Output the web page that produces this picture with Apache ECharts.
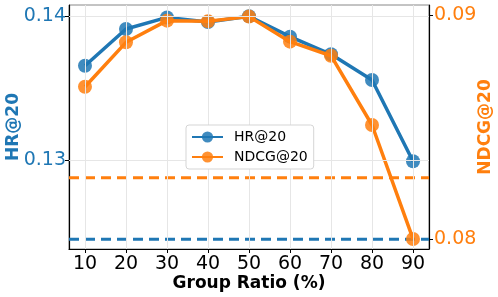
<!DOCTYPE html>
<html><head><meta charset="utf-8">
<script src="https://cdn.jsdelivr.net/npm/echarts@6/dist/echarts.min.js"></script>
<style>html,body{margin:0;padding:0;background:#fff}#c{width:498px;height:297px}</style>
</head><body><div id="c"></div>
<script>
const groupRatios = [10, 20, 30, 40, 50, 60, 70, 80, 90];
const hr20 = [0.13656, 0.1391, 0.1399, 0.13958, 0.13998, 0.13857, 0.13735, 0.13557, 0.12995];
const ndcg20 = [0.08681, 0.0888, 0.08977, 0.08974, 0.08995, 0.08883, 0.0882, 0.0851, 0.0800];
const hrBaseline = 0.12455;
const ndcgBaseline = 0.08274;
const hrTicks = [0.13, 0.14];
const ndcgTicks = [0.08, 0.09];
const xRange = [6.1, 93.9];

const blue = '#1f77b4', orange = '#ff7f0e';
const font = 'DejaVu Sans';
const chart = echarts.init(document.getElementById('c'), null, {renderer: 'canvas'});

const gridLineStyle = {color: '#e6e6e6', width: 1, type: 'solid'};
const vGrid = groupRatios.map(v => ({xAxis: v}));
const hGrid = hrTicks.map(v => ({yAxis: v}));

chart.setOption({
  animation: false,
  textStyle: {fontFamily: font},
  grid: {left: 69, right: 69, top: 5, bottom: 48, outerBoundsMode: 'none', containLabel: false,
    show: true, borderColor: '#888', borderWidth: 1},
  legend: {
    left: 186, top: 125, orient: 'vertical', zlevel: 2, z: 20,
    itemWidth: 31, itemHeight: 14, itemGap: 6,
    padding: [5, 6, 5, 5],
    borderColor: '#d5d5d5', borderWidth: 1, borderRadius: 3,
    backgroundColor: '#fff',
    textStyle: {fontFamily: font, fontSize: 14, color: '#000', padding: [0, 0, 0, 6]},
    data: ['HR@20', 'NDCG@20']
  },
  xAxis: {
    type: 'value', min: xRange[0], max: xRange[1],
    name: 'Group Ratio (%)', nameLocation: 'middle', nameGap: 26, nameMoveOverlap: false,
    nameTextStyle: {fontFamily: font, fontSize: 17, fontWeight: 'bold', color: '#000'},
    axisLine: {show: true, lineStyle: {color: '#000', width: 1.2}},
    axisTick: {show: true, length: 4, customValues: groupRatios, lineStyle: {color: '#000'}},
    axisLabel: {customValues: groupRatios, fontSize: 19, color: '#000', margin: 6, fontFamily: font},
    splitLine: {show: false}
  },
  yAxis: [{
    type: 'value', min: 0.12388, max: 0.14076, position: 'left',
    name: 'HR@20', nameLocation: 'middle', nameRotate: 90, nameGap: 47, nameMoveOverlap: false,
    nameTextStyle: {fontFamily: font, fontSize: 17, fontWeight: 'bold', color: blue},
    axisLine: {show: true, lineStyle: {color: '#000', width: 1.2}},
    axisTick: {show: true, length: 4, customValues: hrTicks, lineStyle: {color: '#000'}},
    axisLabel: {customValues: hrTicks, fontSize: 19, color: blue, margin: 3, fontFamily: font,
      formatter: v => v.toFixed(2)},
    splitLine: {show: false}
  }, {
    type: 'value', min: 0.07955, max: 0.09047, position: 'right',
    name: 'NDCG@20', nameLocation: 'middle', nameRotate: 90, nameGap: 48, nameMoveOverlap: false,
    nameTextStyle: {fontFamily: font, fontSize: 17, fontWeight: 'bold', color: orange},
    axisLine: {show: true, lineStyle: {color: '#000', width: 1.2}},
    axisTick: {show: true, length: 4, customValues: ndcgTicks, lineStyle: {color: '#000'}},
    axisLabel: {customValues: ndcgTicks, fontSize: 19, color: orange, margin: 5, fontFamily: font,
      formatter: v => v.toFixed(2)},
    splitLine: {show: false}
  }],
  series: [{
    name: 'gridlines', type: 'line', data: [], silent: true, z: 0,
    markLine: {silent: true, symbol: 'none', label: {show: false}, lineStyle: gridLineStyle,
      data: vGrid.concat(hGrid), animation: false}
  }, {
    name: 'HR baseline', type: 'line', yAxisIndex: 0, silent: true,
    data: xRange.map(x => [x, hrBaseline]), symbol: 'none',
    lineStyle: {color: blue, width: 3, type: [10, 6]}, z: 2
  }, {
    name: 'NDCG baseline', type: 'line', yAxisIndex: 1, silent: true,
    data: xRange.map(x => [x, ndcgBaseline]), symbol: 'none',
    lineStyle: {color: orange, width: 3, type: [10, 6]}, z: 2
  }, {
    name: 'HR@20', type: 'line', yAxisIndex: 0,
    data: groupRatios.map((x, i) => [x, hr20[i]]),
    symbol: 'circle', symbolSize: 14,
    lineStyle: {color: blue, width: 3.5},
    itemStyle: {color: blue, opacity: 0.85},
    z: 3
  }, {
    name: 'NDCG@20', type: 'line', yAxisIndex: 1,
    data: groupRatios.map((x, i) => [x, ndcg20[i]]),
    symbol: 'circle', symbolSize: 14,
    lineStyle: {color: orange, width: 3.5},
    itemStyle: {color: orange, opacity: 0.85},
    z: 4
  }]
});
</script></body></html>
